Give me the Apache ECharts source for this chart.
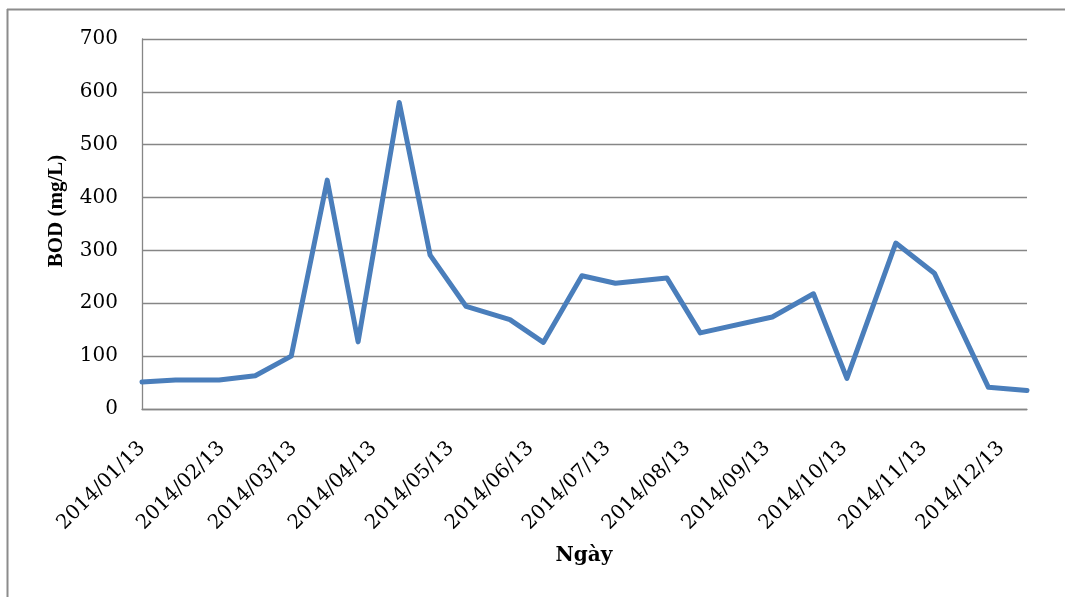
<!DOCTYPE html>
<html>
<head>
<meta charset="utf-8">
<script src="https://cdn.jsdelivr.net/npm/echarts@6/dist/echarts.min.js"></script>
<style>
html,body{margin:0;padding:0;background:#fff;}
#chart{width:1065px;height:597px;}
</style>
</head>
<body>
<div id="chart"></div>
<script>
// Sampling dates and BOD values (mg/L)
const dates = ['2014-01-13','2014-01-26','2014-02-12','2014-02-26','2014-03-12','2014-03-26',
  '2014-04-07','2014-04-23','2014-05-05','2014-05-19','2014-06-05','2014-06-18','2014-07-03',
  '2014-07-16','2014-08-05','2014-08-18','2014-09-15','2014-10-01','2014-10-14','2014-11-02',
  '2014-11-17','2014-12-08','2014-12-23'];
const bodValues = [51, 55, 55, 63, 100, 433, 127, 580, 291, 194, 169, 126, 252,
  238, 248, 144, 174, 218, 58, 314, 257, 41, 35];
// Tick label dates on the x axis
const tickDates = ['2014-01-13','2014-02-13','2014-03-13','2014-04-13','2014-05-13','2014-06-13',
  '2014-07-13','2014-08-13','2014-09-13','2014-10-13','2014-11-13','2014-12-13'];
const yTicks = [0, 100, 200, 300, 400, 500, 600, 700];
const xTitle = 'Ngày';
const yTitle = 'BOD (mg/L)';

const DAY = 86400000;
function toUTC(s) {
  const p = s.split('-').map(Number);
  return Date.UTC(p[0], p[1] - 1, p[2]);
}
const t0 = toUTC(dates[0]);
function toDay(s) { return Math.round((toUTC(s) - t0) / DAY); }
function pad(n) { return (n < 10 ? '0' : '') + n; }
function fmt(dayOffset) {
  const d = new Date(t0 + Math.round(dayOffset) * DAY);
  return d.getUTCFullYear() + '/' + pad(d.getUTCMonth() + 1) + '/' + pad(d.getUTCDate());
}

const seriesData = dates.map((d, i) => [toDay(d), bodValues[i]]);
const tickDays = tickDates.map(toDay);
const FONT = 'DejaVu Serif';

const chart = echarts.init(document.getElementById('chart'), null, {renderer: 'canvas'});
chart.setOption({
  animation: false,
  backgroundColor: '#fff',
  grid: {left: 142, right: 38, top: 39, bottom: 188, outerBoundsMode: 'none', containLabel: false},
  xAxis: {
    type: 'value',
    min: 0,
    max: toDay(dates[dates.length - 1]),
    axisLine: {show: true, onZero: false, lineStyle: {color: '#868686', width: 1.3}},
    axisTick: {show: false},
    splitLine: {show: false},
    axisLabel: {
      customValues: tickDays,
      rotate: 45,
      margin: 36,
      color: '#000',
      fontFamily: FONT,
      fontSize: 20,
      formatter: function (v) { return fmt(v); },
      hideOverlap: false
    }
  },
  yAxis: {
    type: 'value',
    min: yTicks[0],
    max: yTicks[yTicks.length - 1],
    interval: 100,
    axisLine: {show: true, lineStyle: {color: '#868686', width: 1.3}},
    axisTick: {show: false},
    splitLine: {show: true, lineStyle: {color: '#868686', width: 1.3}},
    axisLabel: {color: '#000', fontFamily: FONT, fontSize: 20, margin: 24}
  },
  series: [{
    type: 'line',
    data: seriesData,
    symbol: 'none',
    smooth: false,
    lineStyle: {color: '#4a7ebb', width: 5, join: 'round', cap: 'round'}
  }],
  graphic: [
    {type: 'line', shape: {x1: 7, y1: 9.5, x2: 1065, y2: 9.5}, style: {stroke: '#8c8c8c', lineWidth: 2}, silent: true},
    {type: 'line', shape: {x1: 7.5, y1: 9, x2: 7.5, y2: 597}, style: {stroke: '#8c8c8c', lineWidth: 2}, silent: true},
    {type: 'text', x: 584, y: 556, style: {text: xTitle, font: 'bold 20px "DejaVu Serif"', fill: '#000', align: 'center', verticalAlign: 'middle'}},
    {type: 'text', x: 57, y: 211, rotation: Math.PI / 2, style: {text: yTitle, font: 'bold 21px "Liberation Serif"', fill: '#000', align: 'center', verticalAlign: 'middle'}}
  ]
});
</script>
</body>
</html>
